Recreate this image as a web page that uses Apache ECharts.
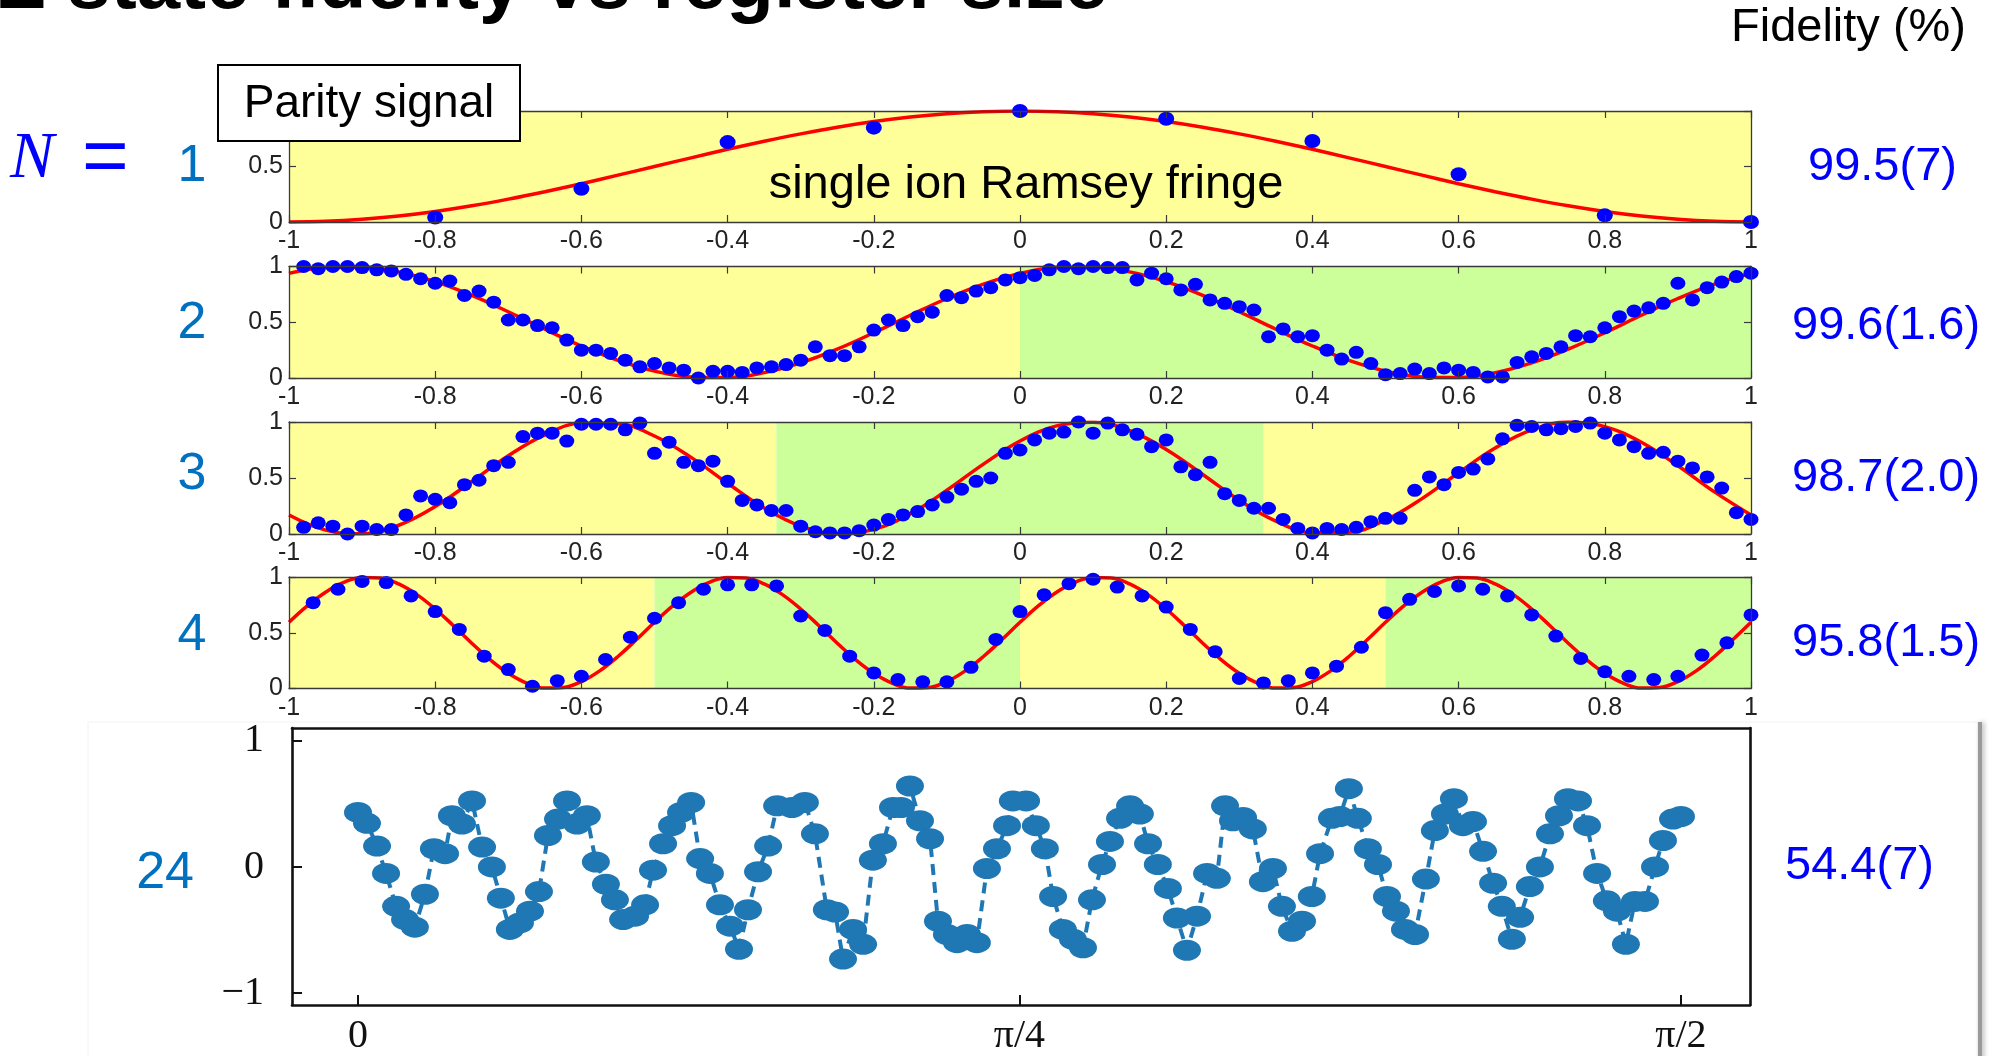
<!DOCTYPE html>
<html><head><meta charset="utf-8">
<script src="https://cdn.jsdelivr.net/npm/echarts@6/dist/echarts.min.js"></script>
<style>html,body{margin:0;padding:0;background:#fff;}#c{width:2003px;height:1056px;}</style>
</head><body><div id="c"></div>
<script>
// ---------------- DATA ----------------
const registerSizes = ['1', '2', '3', '4', '24'];
const fidelities = ['99.5(7)', '99.6(1.6)', '98.7(2.0)', '95.8(1.5)', '54.4(7)'];

const smallXTicks = [-1, -0.8, -0.6, -0.4, -0.2, 0, 0.2, 0.4, 0.6, 0.8, 1];
const smallYTicks = [0, 0.5, 1];
const p5XTicks = [0, 0.25, 0.5];
const p5XTickLabels = ['0', 'π/4', 'π/2'];
const p5YTicks = [-1, 0, 1];
const p5YTickLabels = ['−1', '0', '1'];

// shaded regions [from, to, kind]
const bands1 = [[-1, 1, 'y']];
const bands2 = [[-1, 0, 'y'], [0, 1, 'g']];
const bands3 = [[-1, -1/3, 'y'], [-1/3, 1/3, 'g'], [1/3, 1, 'y']];
const bands4 = [[-1, -0.5, 'y'], [-0.5, 0, 'g'], [0, 0.5, 'y'], [0.5, 1, 'g']];

// N = 1 data
const p1X = [-0.8, -0.6, -0.4, -0.2, 0, 0.2, 0.4, 0.6, 0.8, 1];
const p1Y = [0.04, 0.30, 0.72, 0.85, 1.00, 0.93, 0.73, 0.43, 0.06, 0.00];

// fit curves
const fitX05 = [-1,-0.95,-0.9,-0.85,-0.8,-0.75,-0.7,-0.65,-0.6,-0.55,-0.5,-0.45,-0.4,-0.35,-0.3,-0.25,-0.2,-0.15,-0.1,-0.05,0,0.05,0.1,0.15,0.2,0.25,0.3,0.35,0.4,0.45,0.5,0.55,0.6,0.65,0.7,0.75,0.8,0.85,0.9,0.95,1];
const fit1 = [0,0.006,0.024,0.054,0.095,0.146,0.206,0.273,0.345,0.422,0.5,0.578,0.655,0.727,0.794,0.854,0.905,0.946,0.976,0.994,1,0.994,0.976,0.946,0.905,0.854,0.794,0.727,0.655,0.578,0.5,0.422,0.345,0.273,0.206,0.146,0.095,0.054,0.024,0.006,0];
const fit2 = [0.938,0.991,0.996,0.952,0.864,0.741,0.594,0.437,0.287,0.158,0.062,0.009,0.004,0.048,0.136,0.259,0.406,0.563,0.713,0.842,0.938,0.991,0.996,0.952,0.864,0.741,0.594,0.437,0.287,0.158,0.062,0.009,0.004,0.048,0.136,0.259,0.406,0.563,0.713,0.842,0.938];
const fit3 = [0.170,0.035,0.002,0.078,0.245,0.469,0.699,0.885,0.988,0.984,0.875,0.684,0.453,0.232,0.070,0.001,0.041,0.181,0.391,0.624,0.830,0.965,0.998,0.922,0.755,0.531,0.301,0.115,0.012,0.016,0.125,0.316,0.547,0.768,0.930,0.999,0.959,0.819,0.609,0.376,0.170];
const fitX025 = [-1,-0.975,-0.95,-0.925,-0.9,-0.875,-0.85,-0.825,-0.8,-0.775,-0.75,-0.725,-0.7,-0.675,-0.65,-0.625,-0.6,-0.575,-0.55,-0.525,-0.5,-0.475,-0.45,-0.425,-0.4,-0.375,-0.35,-0.325,-0.3,-0.275,-0.25,-0.225,-0.2,-0.175,-0.15,-0.125,-0.1,-0.075,-0.05,-0.025,0,0.025,0.05,0.075,0.1,0.125,0.15,0.175,0.2,0.225,0.25,0.275,0.3,0.325,0.35,0.375,0.4,0.425,0.45,0.475,0.5,0.525,0.55,0.575,0.6,0.625,0.65,0.675,0.7,0.725,0.75,0.775,0.8,0.825,0.85,0.875,0.9,0.925,0.95,0.975,1];
const fit4 = [0.594,0.741,0.864,0.952,0.996,0.991,0.938,0.842,0.713,0.563,0.406,0.259,0.136,0.048,0.004,0.009,0.062,0.158,0.287,0.437,
  0.594,0.741,0.864,0.952,0.996,0.991,0.938,0.842,0.713,0.563,0.406,0.259,0.136,0.048,0.004,0.009,0.062,0.158,0.287,0.437,
  0.594,0.741,0.864,0.952,0.996,0.991,0.938,0.842,0.713,0.563,0.406,0.259,0.136,0.048,0.004,0.009,0.062,0.158,0.287,0.437,
  0.594,0.741,0.864,0.952,0.996,0.991,0.938,0.842,0.713,0.563,0.406,0.259,0.136,0.048,0.004,0.009,0.062,0.158,0.287,0.437,0.594];

// N = 2 and N = 3 data (same phase points)
const dotX02 = [-0.98,-0.96,-0.94,-0.92,-0.9,-0.88,-0.86,-0.84,-0.82,-0.8,-0.78,-0.76,-0.74,-0.72,-0.7,-0.68,-0.66,-0.64,-0.62,-0.6,-0.58,-0.56,-0.54,-0.52,-0.5,-0.48,-0.46,-0.44,-0.42,-0.4,-0.38,-0.36,-0.34,-0.32,-0.3,-0.28,-0.26,-0.24,-0.22,-0.2,-0.18,-0.16,-0.14,-0.12,-0.1,-0.08,-0.06,-0.04,-0.02,0,0.02,0.04,0.06,0.08,0.1,0.12,0.14,0.16,0.18,0.2,0.22,0.24,0.26,0.28,0.3,0.32,0.34,0.36,0.38,0.4,0.42,0.44,0.46,0.48,0.5,0.52,0.54,0.56,0.58,0.6,0.62,0.64,0.66,0.68,0.7,0.72,0.74,0.76,0.78,0.8,0.82,0.84,0.86,0.88,0.9,0.92,0.94,0.96,0.98,1];
const p2Y = [1.00,0.98,1.00,1.00,0.99,0.97,0.96,0.93,0.89,0.85,0.87,0.74,0.78,0.68,0.52,0.52,0.47,0.45,0.34,0.25,0.25,0.22,0.16,0.10,0.13,0.09,0.07,0.00,0.06,0.06,0.05,0.09,0.10,0.12,0.16,0.28,0.20,0.20,0.28,0.43,0.52,0.47,0.55,0.59,0.74,0.72,0.78,0.81,0.88,0.90,0.92,0.97,1.00,0.98,1.00,0.99,0.99,0.88,0.94,0.89,0.79,0.84,0.70,0.67,0.64,0.61,0.37,0.44,0.37,0.38,0.25,0.17,0.23,0.13,0.03,0.04,0.08,0.04,0.09,0.07,0.05,0.01,0.01,0.14,0.19,0.22,0.28,0.38,0.37,0.45,0.55,0.60,0.63,0.67,0.85,0.70,0.81,0.86,0.91,0.94];
const p3Y = [0.06,0.10,0.07,0.00,0.07,0.04,0.04,0.17,0.34,0.31,0.28,0.44,0.48,0.61,0.64,0.87,0.90,0.90,0.83,0.98,0.98,0.98,0.93,0.99,0.72,0.82,0.64,0.61,0.65,0.47,0.30,0.26,0.21,0.21,0.07,0.02,0.01,0.01,0.03,0.08,0.13,0.17,0.20,0.26,0.33,0.40,0.47,0.50,0.72,0.75,0.84,0.90,0.91,1.00,0.90,0.99,0.93,0.89,0.78,0.84,0.60,0.53,0.64,0.36,0.30,0.23,0.23,0.13,0.05,0.01,0.05,0.04,0.06,0.11,0.14,0.14,0.39,0.51,0.44,0.55,0.58,0.67,0.85,0.97,0.96,0.93,0.94,0.96,0.99,0.90,0.84,0.78,0.72,0.73,0.65,0.59,0.51,0.41,0.19,0.13];

// N = 4 data
const p4X = [-0.967,-0.933,-0.9,-0.867,-0.833,-0.8,-0.767,-0.733,-0.7,-0.667,-0.633,-0.6,-0.567,-0.533,-0.5,-0.467,-0.433,-0.4,-0.367,-0.333,-0.3,-0.267,-0.233,-0.2,-0.167,-0.133,-0.1,-0.067,-0.033,0,0.033,0.067,0.1,0.133,0.167,0.2,0.233,0.267,0.3,0.333,0.367,0.4,0.433,0.467,0.5,0.533,0.567,0.6,0.633,0.667,0.7,0.733,0.767,0.8,0.833,0.867,0.9,0.933,0.967,1];
const p4Y = [0.77,0.89,0.96,0.95,0.83,0.69,0.53,0.29,0.17,0.02,0.07,0.11,0.26,0.46,0.63,0.77,0.89,0.93,0.93,0.92,0.65,0.52,0.29,0.14,0.08,0.06,0.06,0.19,0.44,0.69,0.84,0.94,0.98,0.91,0.83,0.73,0.53,0.33,0.09,0.05,0.07,0.14,0.20,0.37,0.68,0.80,0.87,0.92,0.89,0.83,0.66,0.47,0.27,0.15,0.11,0.08,0.11,0.30,0.41,0.66];

// N = 24 data (phase in units of pi)
const p5X = [0,0.0034,0.0072,0.0106,0.0144,0.0178,0.0215,0.0253,0.0287,0.0329,
  0.0355,0.0393,0.0431,0.0469,0.0506,0.0540,0.0574,0.0612,0.0650,0.0684,
  0.0718,0.0756,0.0790,0.0828,0.0865,0.0899,0.0937,0.0971,0.1002,0.1047,
  0.1085,0.1115,0.1153,0.1187,0.1221,0.1259,0.1293,0.1330,0.1368,0.1406,
  0.1440,0.1474,0.1512,0.1550,0.1584,0.1640,0.1689,0.1727,0.1772,0.1803,
  0.1833,0.1871,0.1909,0.1946,0.1984,0.2022,0.2052,0.2086,0.2124,0.2162,
  0.2192,0.2226,0.2264,0.2302,0.2339,0.2377,0.2415,0.2453,0.2475,0.2525,
  0.2562,0.2596,0.2627,0.2664,0.2702,0.2740,0.2774,0.2812,0.2842,0.2880,
  0.2918,0.2955,0.2986,0.3023,0.3061,0.3095,0.3133,0.3171,0.3209,0.3246,
  0.3277,0.3307,0.3345,0.3382,0.3420,0.3458,0.3492,0.3530,0.3568,0.3605,
  0.3636,0.3681,0.3711,0.3745,0.3779,0.3817,0.3855,0.3889,0.3923,0.3957,
  0.3995,0.4036,0.4070,0.4108,0.4142,0.4176,0.4214,0.4252,0.4290,0.4323,
  0.4361,0.4392,0.4429,0.4467,0.4505,0.4539,0.4573,0.4611,0.4645,0.4683,
  0.4720,0.4758,0.4792,0.4826,0.4864,0.4902,0.4932,0.4970,0.5000];
const p5Y = [0.433,0.346,0.166,-0.051,-0.312,-0.417,-0.477,-0.216,0.145,0.106,
  0.406,0.341,0.524,0.158,0.001,-0.247,-0.495,-0.443,-0.35,-0.195,
  0.25,0.38,0.524,0.341,0.406,0.04,-0.137,-0.26,-0.417,-0.39,
  -0.30,-0.025,0.184,0.328,0.433,0.511,0.067,-0.051,-0.30,-0.469,
  -0.652,-0.339,-0.038,0.166,0.485,0.472,0.511,0.263,-0.339,-0.357,
  -0.73,-0.495,-0.613,0.054,0.184,0.472,0.472,0.642,0.367,0.224,
  -0.43,-0.535,-0.60,-0.535,-0.60,-0.012,0.145,0.328,0.524,0.524,
  0.328,0.145,-0.234,-0.495,-0.573,-0.64,-0.26,0.02,0.203,0.386,
  0.485,0.42,0.184,0.02,-0.17,-0.404,-0.66,-0.39,-0.051,-0.09,
  0.485,0.367,0.393,0.302,-0.116,-0.012,-0.312,-0.509,-0.43,-0.234,
  0.106,0.386,0.40,0.621,0.386,0.145,0.02,-0.234,-0.35,-0.495,
  -0.535,-0.096,0.289,0.42,0.542,0.328,0.36,0.124,-0.129,-0.312,
  -0.573,-0.399,-0.155,0.001,0.263,0.406,0.542,0.524,0.328,-0.051,
  -0.268,-0.35,-0.612,-0.273,-0.273,0.001,0.21,0.38,0.40];

// ---------------- CHART ----------------
const SANS = "'Liberation Sans', Arial, sans-serif";
const NARROW = "'Liberation Sans Narrow', 'Arial Narrow', 'Liberation Sans', Arial, sans-serif";
const SERIF = "'Liberation Serif', 'DejaVu Serif', serif";
const YEL = '#FFFF99', GRN = '#CCFF99';
const AX = '#3a3a3a';
const zip = (xs, ys) => xs.map((x, i) => [x, ys[i]]);
const ellipse = 'path://M0,5A5,5 0 1 1 10,5A5,5 0 1 1 0,5Z';

const grids = [
  {left: 289, top: 111, width: 1462, height: 111},
  {left: 289, top: 266.5, width: 1462, height: 111.5},
  {left: 289, top: 422, width: 1462, height: 112},
  {left: 289, top: 577, width: 1462, height: 111.5},
  {left: 292, top: 728, width: 1458, height: 280}
];

const xAxes = [], yAxes = [], series = [];
const bandSets = [bands1, bands2, bands3, bands4];
const fits = [[fitX05, fit1], [fitX05, fit2], [fitX05, fit3], [fitX025, fit4]];
const dots = [[p1X, p1Y], [dotX02, p2Y], [dotX02, p3Y], [p4X, p4Y]];

for (let i = 0; i < 4; i++) {
  const common = {gridIndex: i, type: 'value', min: -1, max: 1, z: 5,
    splitLine: {show: false},
    axisLine: {show: true, onZero: false, lineStyle: {color: AX, width: 1.3}}};
  xAxes.push(Object.assign({}, common, {position: 'bottom',
    axisTick: {inside: true, length: 7, customValues: smallXTicks, lineStyle: {color: AX, width: 1.2}},
    axisLabel: {customValues: smallXTicks, fontFamily: NARROW, fontSize: 25, color: '#222', margin: 7}}));
  const yc = {gridIndex: i, type: 'value', min: 0, max: 1, z: 5, splitLine: {show: false},
    axisLine: {show: true, onZero: false, lineStyle: {color: AX, width: 1.3}}};
  yAxes.push(Object.assign({}, yc, {position: 'left',
    axisTick: {inside: true, length: 7, customValues: smallYTicks, lineStyle: {color: AX, width: 1.2}},
    axisLabel: {customValues: smallYTicks, fontFamily: NARROW, fontSize: 25, color: '#222', margin: 6}}));
}
// panel 5 axes
xAxes.push({gridIndex: 4, type: 'value', min: -0.02494, max: 0.5261, z: 5, position: 'bottom',
  splitLine: {show: false},
  axisLine: {show: true, onZero: false, lineStyle: {color: '#111', width: 2.6}},
  axisTick: {inside: true, length: 10, customValues: p5XTicks, lineStyle: {color: '#111', width: 2}},
  axisLabel: {customValues: p5XTicks, fontFamily: SERIF, fontSize: 40, color: '#111', margin: 11,
    formatter: v => p5XTickLabels[p5XTicks.indexOf(v)]}});
yAxes.push({gridIndex: 4, type: 'value', min: -1.094, max: 1.102, z: 5, position: 'left',
  splitLine: {show: false},
  axisLine: {show: true, onZero: false, lineStyle: {color: '#111', width: 2.6}},
  axisTick: {inside: true, length: 10, customValues: p5YTicks, lineStyle: {color: '#111', width: 2}},
  axisLabel: {customValues: p5YTicks, fontFamily: SERIF, fontSize: 40, color: '#111', margin: 28,
    formatter: v => p5YTickLabels[p5YTicks.indexOf(v)]}});
// opposite-side box axes
for (let i = 0; i < 4; i++) {
  xAxes.push({gridIndex: i, type: 'value', min: -1, max: 1, position: 'top', z: 5,
    splitLine: {show: false}, axisLabel: {show: false},
    axisLine: {show: true, onZero: false, lineStyle: {color: AX, width: 1.3}},
    axisTick: {inside: true, length: 7, customValues: smallXTicks, lineStyle: {color: AX, width: 1.2}}});
  yAxes.push({gridIndex: i, type: 'value', min: 0, max: 1, position: 'right', z: 5,
    splitLine: {show: false}, axisLabel: {show: false},
    axisLine: {show: true, onZero: false, lineStyle: {color: AX, width: 1.3}},
    axisTick: {inside: true, length: 7, customValues: smallYTicks, lineStyle: {color: AX, width: 1.2}}});
}
xAxes.push({gridIndex: 4, type: 'value', min: -0.02494, max: 0.5261, position: 'top', z: 5,
  splitLine: {show: false}, axisLabel: {show: false}, axisTick: {show: false},
  axisLine: {show: true, onZero: false, lineStyle: {color: '#111', width: 2.6}}});
yAxes.push({gridIndex: 4, type: 'value', min: -1.094, max: 1.102, position: 'right', z: 5,
  splitLine: {show: false}, axisLabel: {show: false}, axisTick: {show: false},
  axisLine: {show: true, onZero: false, lineStyle: {color: '#111', width: 2.6}}});

for (let i = 0; i < 4; i++) {
  series.push({type: 'line', xAxisIndex: i, yAxisIndex: i, z: 3,
    data: zip(fits[i][0], fits[i][1]), smooth: 0.4, symbol: 'none',
    lineStyle: {color: '#FF0000', width: 3.5}, silent: true,
    markArea: {silent: true, z: 1, data: bandSets[i].map(b => [
      {xAxis: b[0], itemStyle: {color: b[2] === 'y' ? YEL : GRN}}, {xAxis: b[1]}])}});
  series.push({type: 'scatter', xAxisIndex: i, yAxisIndex: i, z: 4,
    data: zip(dots[i][0], dots[i][1]), symbol: ellipse,
    symbolSize: i === 0 ? [16, 14] : [15, 13],
    itemStyle: {color: '#0000FF', opacity: 1}, silent: true});
}
series.push({type: 'line', xAxisIndex: 4, yAxisIndex: 4, z: 4, data: zip(p5X, p5Y),
  symbol: ellipse, symbolSize: [28, 21], showAllSymbol: true, silent: true,
  lineStyle: {color: '#1f77b4', width: 4, type: [11, 7]},
  itemStyle: {color: '#1f77b4', opacity: 1}});

const rowY = [167, 324, 475, 636, 874];
const fidY = [167, 326, 478, 643, 866];
const fidX = [1808, 1792, 1792, 1792, 1785];
const graphic = [];
// framed region of the lower picture
graphic.push({type: 'rect', shape: {x: 88, y: 722, width: 1890, height: 340}, z: 0,
  style: {fill: '#fff', stroke: '#f2f2f2', lineWidth: 1}});
graphic.push({type: 'rect', shape: {x: 1978, y: 722, width: 4, height: 340}, z: 0,
  style: {fill: '#9a9a9a', shadowColor: 'rgba(0,0,0,0.3)', shadowBlur: 5, shadowOffsetX: 2}});
graphic.push({type: 'text', left: -2, top: -53, z: 50,
  style: {text: 'Z state fidelity vs register size', font: 'bold 78px ' + SANS, fill: '#000'}});
graphic.push({type: 'text', x: 1731, y: 28, z: 50,
  style: {text: 'Fidelity (%)', font: '47px ' + SANS, fill: '#000', textVerticalAlign: 'middle'}});
graphic.push({type: 'rect', shape: {x: 218, y: 65, width: 302, height: 76}, z: 60,
  style: {fill: '#fff', stroke: '#000', lineWidth: 2}});
graphic.push({type: 'text', x: 369, y: 104, z: 61,
  style: {text: 'Parity signal', font: '46px ' + SANS, fill: '#000', textAlign: 'center', textVerticalAlign: 'middle'}});
graphic.push({type: 'text', x: 1026, y: 185, z: 50,
  style: {text: 'single ion Ramsey fringe', font: '47px ' + SANS, fill: '#000', textAlign: 'center', textVerticalAlign: 'middle'}});
graphic.push({type: 'text', x: 10, y: 160, z: 50,
  style: {text: 'N', font: 'italic 66px ' + SERIF, fill: '#0000FF', textVerticalAlign: 'middle'}});
graphic.push({type: 'text', x: 82, y: 160, z: 50,
  style: {text: '=', font: '80px ' + SANS, fill: '#0000FF', textVerticalAlign: 'middle'}});
for (let i = 0; i < 5; i++) {
  graphic.push({type: 'text', x: i === 4 ? 194 : 192, y: rowY[i], z: 50,
    style: {text: registerSizes[i], font: '52px ' + SANS, fill: '#0070C0',
      textAlign: i === 4 ? 'right' : 'center', textVerticalAlign: 'middle'}});
  graphic.push({type: 'text', x: fidX[i], y: fidY[i], z: 50,
    style: {text: fidelities[i], font: '47px ' + SANS, fill: '#0000FF', textVerticalAlign: 'middle'}});
}

const chart = echarts.init(document.getElementById('c'), null, {renderer: 'canvas'});
chart.setOption({animation: false, backgroundColor: '#fff',
  grid: grids, xAxis: xAxes, yAxis: yAxes, series: series, graphic: graphic});
</script></body></html>
